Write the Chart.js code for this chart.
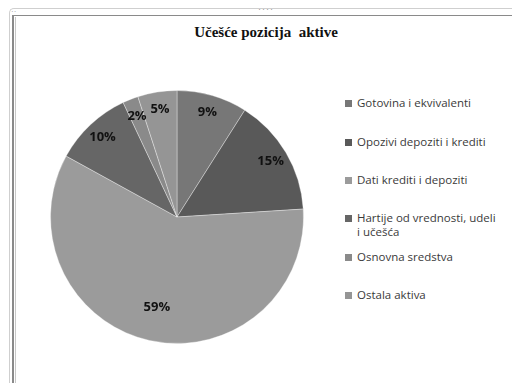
<!DOCTYPE html>
<html lang="sr">
<head>
<meta charset="UTF-8">
<title>Učešće pozicija aktive</title>
<script src="https://cdn.jsdelivr.net/npm/chart.js"></script>
<style>
  body { margin: 0; width: 512px; height: 383px; background: #fff; position: relative; overflow: hidden; }
  .okvir1 { position: absolute; left: 9px; top: 8px; width: 600px; height: 500px; border-left: 1px solid #cfcfcf; border-top: 1px solid #cfcfcf; border-top-left-radius: 5px; }
  .okvir2 { position: absolute; left: 12px; top: 15px; width: 600px; height: 500px; border-left: 2px solid #8a8a8a; border-top: 1px solid #8a8a8a; }
  .okvir3 { position: absolute; left: 15px; top: 17px; width: 600px; height: 500px; border-left: 1px solid #c8c8c8; }
  .tacke { position: absolute; left: 258px; top: 4px; font: 9px sans-serif; color: #999; letter-spacing: 1px; }
  .tacke2 { position: absolute; left: 11px; top: 7px; font: 8px sans-serif; color: #999; }
  h1 { position: absolute; left: 0; width: 532px; top: 24px; margin: 0; text-align: center; font: bold 15px "Liberation Serif", serif; color: #111; }
  #grafik { position: absolute; left: 50px; top: 90px; }
  #legenda { position: absolute; left: 345px; top: 0; font: 11.5px "Open Sans", sans-serif; color: #3a3a3a; }
  .stavka { position: absolute; left: 0; width: 170px; line-height: 14px; white-space: nowrap; }
  .stavka span.kv { position: absolute; left: 0; top: 4px; width: 7px; height: 7px; }
  .stavka span.tx { display: block; margin-left: 12px; }
</style>
</head>
<body>
<div class="okvir1"></div>
<div class="okvir2"></div>
<div class="okvir3"></div>
<div class="tacke">····</div>
<div class="tacke2">··</div>
<h1>Učešće pozicija&nbsp; aktive</h1>
<canvas id="grafik" width="254" height="254"></canvas>
<div id="legenda"></div>
<script>
// podaci
const kategorije = [
  'Gotovina i ekvivalenti',
  'Opozivi depoziti i krediti',
  'Dati krediti i depoziti',
  'Hartije od vrednosti, udeli\ni učešća',
  'Osnovna sredstva',
  'Ostala aktiva'
];
const procenti = [9, 15, 59, 10, 2, 5];
const boje = ['#777777', '#595959', '#9b9b9b', '#666666', '#8a8a8a', '#959595'];

// legenda (html, zbog prelamanja teksta)
const legendaY = [96, 135, 173, 211, 250, 288];
const leg = document.getElementById('legenda');
kategorije.forEach((k, i) => {
  const d = document.createElement('div');
  d.className = 'stavka';
  d.style.top = legendaY[i] + 'px';
  d.innerHTML = '<span class="kv" style="background:' + boje[i] + '"></span>' +
    k.split('\n').map(l => '<span class="tx">' + l + '</span>').join('');
  leg.appendChild(d);
});

// procenti na kriskama
const oznake = {
  id: 'oznake',
  afterDatasetsDraw(chart) {
    const ctx = chart.ctx;
    const meta = chart.getDatasetMeta(0);
    ctx.save();
    ctx.font = 'bold 13px "Open Sans", sans-serif';
    ctx.fillStyle = '#111';
    ctx.textAlign = 'center';
    ctx.textBaseline = 'middle';
    meta.data.forEach((arc, i) => {
      const p = arc.getProps(['x', 'y', 'startAngle', 'endAngle', 'outerRadius']);
      const ug = (p.startAngle + p.endAngle) / 2;
      const f = procenti[i] > 50 ? 0.73 : 0.86;
      ctx.fillText(procenti[i] + '%', p.x + Math.cos(ug) * p.outerRadius * f, p.y + Math.sin(ug) * p.outerRadius * f);
    });
    ctx.restore();
  }
};

new Chart(document.getElementById('grafik'), {
  type: 'pie',
  data: {
    labels: kategorije,
    datasets: [{
      data: procenti,
      backgroundColor: boje,
      borderColor: 'rgba(255,255,255,0.35)',
      borderWidth: 1
    }]
  },
  options: {
    responsive: false,
    animation: false,
    layout: { padding: 0 },
    plugins: {
      legend: { display: false },
      tooltip: { enabled: false }
    }
  },
  plugins: [oznake]
});
</script>
</body>
</html>
